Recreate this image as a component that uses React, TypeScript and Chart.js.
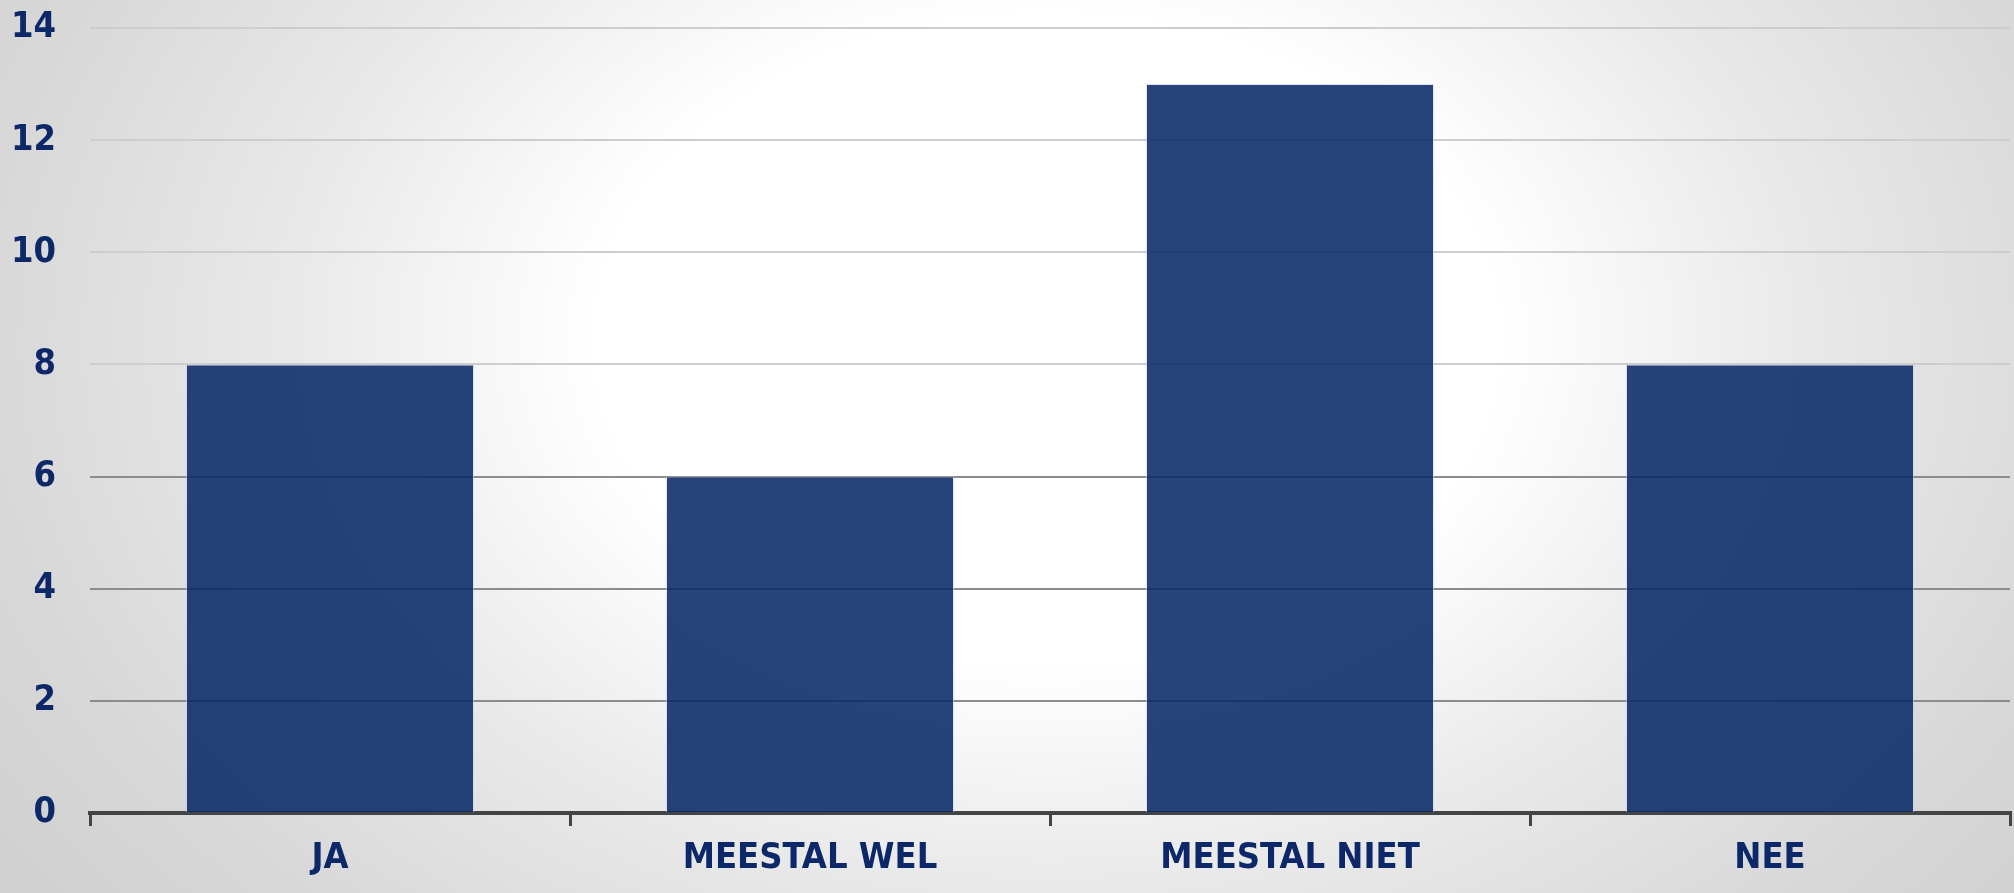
import React, { useEffect, useRef } from "react";
import { Chart, registerables } from "chart.js";

Chart.register(...registerables);

const categories = ["JA", "MEESTAL WEL", "MEESTAL NIET", "NEE"];
const values = [8, 6, 13, 8];
const yTicks = [0, 2, 4, 6, 8, 10, 12, 14];

const FONT = "'Liberation Sans Narrow', 'DejaVu Sans Condensed', 'Liberation Sans', sans-serif";
const TEXT = "#0c2869";

export default function App() {
  const ref = useRef<HTMLCanvasElement | null>(null);

  useEffect(() => {
    if (!ref.current) return;
    const chart = new Chart(ref.current, {
      type: "bar",
      data: {
        labels: categories,
        datasets: [
          {
            data: values,
            backgroundColor: "rgba(7,39,102,0.87)",
            borderColor: "rgba(200,210,232,0.6)",
            borderWidth: 1,
            barPercentage: 0.6,
            categoryPercentage: 1,
          },
        ],
      },
      options: {
        responsive: false,
        animation: false,
        layout: { padding: { top: 28, right: 4, left: 0, bottom: 0 } },
        plugins: { legend: { display: false }, tooltip: { enabled: false } },
        scales: {
          x: {
            offset: true,
            grid: {
              offset: true,
              drawOnChartArea: false,
              drawTicks: true,
              tickLength: 13,
              color: "#444444",
              lineWidth: 3,
            },
            border: { display: true, color: "#444444", width: 4 },
            ticks: {
              color: TEXT,
              font: { family: FONT, size: 36, weight: "bold" },
              padding: 11,
              maxRotation: 0,
            },
            afterFit: (s: any) => {
              s.height = 80;
              s.paddingLeft = 0;
              s.paddingRight = 0;
            },
          },
          y: {
            min: 0,
            max: 14,
            afterBuildTicks: (s: any) => {
              s.ticks = yTicks.map((v) => ({ value: v }));
            },
            grid: {
              drawTicks: false,
              lineWidth: 2,
              color: (ctx: any) => {
                const v = ctx.tick ? ctx.tick.value : 0;
                return v > 0 && v <= 6 ? "#8c8c8c" : "#cdcdcd";
              },
            },
            border: { display: false },
            ticks: {
              color: TEXT,
              font: { family: FONT, size: 36, weight: "bold" },
              padding: 34,
            },
            afterFit: (s: any) => {
              s.width = 90;
              s.paddingTop = 0;
              s.paddingBottom = 0;
            },
          },
        },
      },
    });
    return () => chart.destroy();
  }, []);

  return (
    <div
      style={{
        position: "fixed",
        left: 0,
        top: 0,
        width: 2014,
        height: 893,
        background:
          "radial-gradient(ellipse 80% 130% at 52% 38%, #ffffff 0%, #ffffff 28%, #e9e9e9 47%, #d8d8d8 66%, #c4c4c4 100%)",
      }}
    >
      <canvas ref={ref} width={2014} height={893} style={{ display: "block" }} />
    </div>
  );
}
